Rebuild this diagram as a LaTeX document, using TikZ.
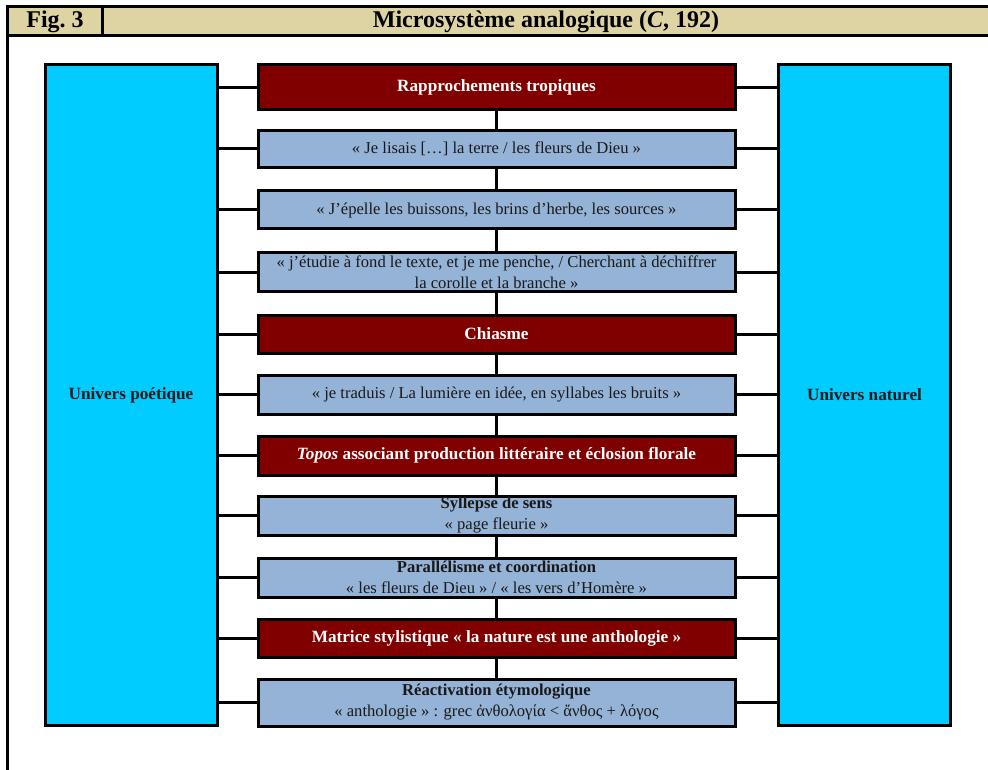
\documentclass[tikz,border=0pt]{standalone}
\usepackage{fontspec}
\setmainfont{Liberation Serif}
\definecolor{hdr}{HTML}{DED3A2}
\definecolor{dred}{HTML}{800000}
\definecolor{lblue}{HTML}{95B3D7}
\definecolor{cyanbox}{HTML}{00CCFF}
\tikzset{
  frameline/.style={line width=3pt, black},
  sidebox/.style={draw=black, line width=3pt, fill=cyanbox, minimum width=172pt, minimum height=660pt, inner sep=0pt, font=\fontsize{17.2}{20}\selectfont\bfseries, text=black!90},
  redbox/.style={draw=black, line width=3pt, fill=dred, minimum width=477pt, inner sep=0pt, text=white, align=center, font=\fontsize{17.2}{21}\selectfont\bfseries},
  bluebox/.style={draw=black, line width=3pt, fill=lblue, minimum width=477pt, inner sep=0pt, text=black!90, align=center, font=\fontsize{16.6}{21}\selectfont},
  conn/.style={line width=3pt, black}
}
\begin{document}
\begin{tikzpicture}[x=1pt,y=-1pt]
\useasboundingbox (0,0) rectangle (988,770);
% header
\fill[hdr] (7,7) rectangle (988,36);
\draw[frameline] (988,7) -- (7,7) -- (7,775);
\draw[frameline] (7,36) -- (988,36);
\draw[frameline] (102,7) -- (102,36);
\node[font=\fontsize{24}{26}\selectfont\bfseries] (fig) at (55,22) {Fig.~3};
\node[font=\fontsize{24}{26}\selectfont\bfseries] (title) at (546,22) {Microsystème analogique (\textit{C}, 192)};
% side boxes
\node[sidebox] (L) at (131,395) {Univers poétique};
\node[sidebox] (R) at (864.5,395) {Univers naturel};
% center boxes
\node[redbox, minimum height=45pt] (b1) at (496.5,87.5) {Rapprochements tropiques};
\node[bluebox, minimum height=37pt] (b2) at (496.5,149) {« Je lisais […] la terre / les fleurs de Dieu »};
\node[bluebox, minimum height=38pt] (b3) at (496.5,210) {« J’épelle les buissons, les brins d’herbe, les sources »};
\node[bluebox, minimum height=38pt] (b4) at (496.5,272) {« j’étudie à fond le texte, et je me penche, / Cherchant à déchiffrer\\la corolle et la branche »};
\node[redbox, minimum height=38pt] (b5) at (496.5,334) {Chiasme};
\node[bluebox, minimum height=39pt] (b6) at (496.5,394.5) {« je traduis / La lumière en idée, en syllabes les bruits »};
\node[redbox, minimum height=39pt] (b7) at (496.5,455.5) {\textit{Topos} associant production littéraire et éclosion florale};
\node[bluebox, minimum height=39pt] (b8) at (496.5,515.5) {\textbf{Syllepse de sens}\\« page fleurie »};
\node[bluebox, minimum height=39pt] (b9) at (496.5,577.5) {\textbf{Parallélisme et coordination}\\« les fleurs de Dieu » / « les vers d’Homère »};
\node[redbox, minimum height=38pt] (b10) at (496.5,638) {Matrice stylistique « la nature est une anthologie »};
\node[bluebox, minimum height=47pt] (b11) at (496.5,702.5) {\textbf{Réactivation étymologique}\\« anthologie » : grec ἀνθολογία < ἄνθος + λόγος};
% connectors
\foreach \a/\b in {b1/b2,b2/b3,b3/b4,b4/b5,b5/b6,b6/b7,b7/b8,b8/b9,b9/b10,b10/b11}{
  \draw[conn] (\a.south) -- (\b.north);
}
\foreach \n in {b1,b2,b3,b4,b5,b6,b7,b8,b9,b10,b11}{
  \draw[conn] (\n.west) -- (L.east |- \n.west);
  \draw[conn] (\n.east) -- (R.west |- \n.east);
}
\end{tikzpicture}
\end{document}
